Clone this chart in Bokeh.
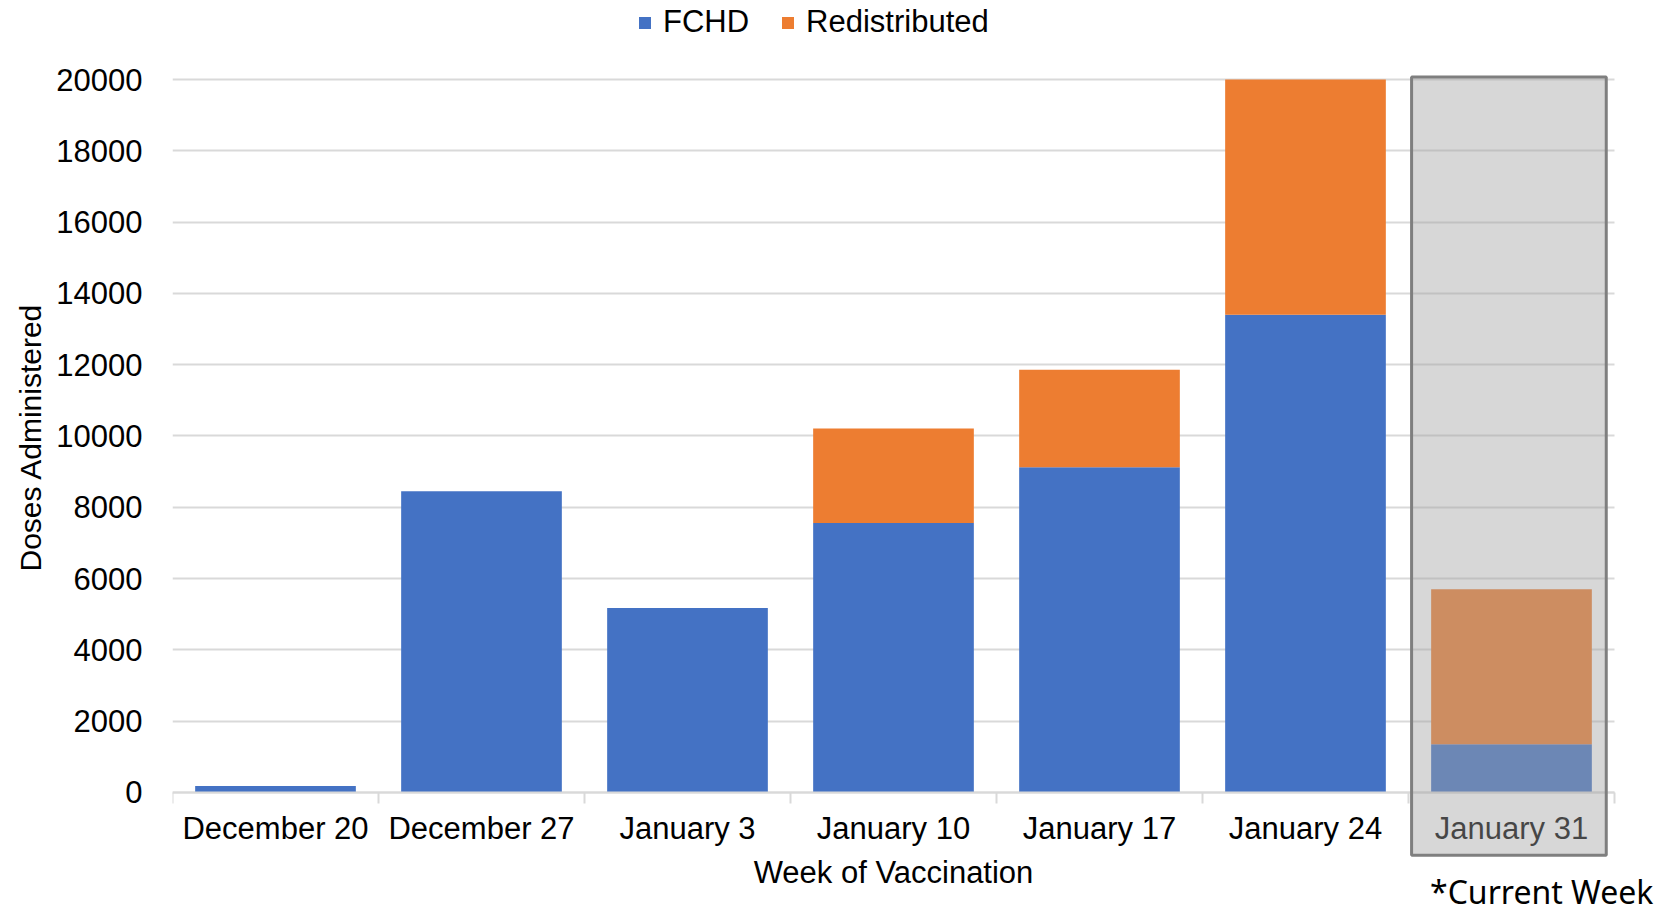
from bokeh.plotting import figure
from bokeh.models import (Range1d, FixedTicker, LinearAxis, Legend, LegendItem,
                          Label, ColumnDataSource, Grid, Title, BoxAnnotation)
from bokeh.embed import file_html
from bokeh.resources import INLINE

# ---- data ----
weeks = ["December 20", "December 27", "January 3", "January 10",
         "January 17", "January 24", "January 31"]
fchd = [180, 8450, 5170, 7560, 9120, 13400, 1350]
redistributed = [0, 0, 0, 2650, 2740, 6600, 4350]
y_ticks = [0, 2000, 4000, 6000, 8000, 10000, 12000, 14000, 16000, 18000, 20000]
current_week = "January 31"
current_week_note = "*Current Week"
series_names = ["FCHD", "Redistributed"]
series_colors = ["#4472C4", "#ED7D31"]

FONT = "Liberation Sans"
FS = "31px"

n = len(weeks)
xs = [i + 0.5 for i in range(n)]
src = ColumnDataSource(dict(x=xs, FCHD=fchd, Redistributed=redistributed))

W, H = 1665, 906
p = figure(width=W, height=H,
           x_range=Range1d(0, 7.2476), y_range=Range1d(-3202, 22219),
           output_backend="svg", toolbar_location=None,
           x_axis_location=None, y_axis_location=None,
           min_border_left=172, min_border_right=0,
           min_border_top=0, min_border_bottom=0)
p.outline_line_color = None
p.background_fill_color = "white"
p.center = [r for r in p.center if not isinstance(r, Grid)]

# y axis
yaxis = LinearAxis(ticker=FixedTicker(ticks=y_ticks))
yaxis.axis_line_color = None
yaxis.major_tick_line_color = None
yaxis.minor_tick_line_color = None
yaxis.major_tick_out = 0
yaxis.major_tick_in = 0
yaxis.major_label_standoff = 30
yaxis.major_label_text_font = FONT
yaxis.major_label_text_font_size = FS
yaxis.major_label_text_color = "#000000"
p.add_layout(yaxis, "left")

ytitle = Title(text="Doses Administered", align="left", offset=335,
               vertical_align="middle", standoff=12,
               text_font=FONT, text_font_size="30px", text_font_style="normal",
               text_color="#000000")
p.add_layout(ytitle, "left")

grid = Grid(dimension=1, ticker=yaxis.ticker)
grid.grid_line_color = "#D9D9D9"
grid.grid_line_width = 2
p.add_layout(grid)

# keep grid lines inside the category area
p.add_layout(BoxAnnotation(left=n, fill_color="white", fill_alpha=1.0,
                           line_color=None, level="underlay"))

# x axis (fixed at y=0)
xaxis = LinearAxis(ticker=FixedTicker(ticks=xs, minor_ticks=list(range(n + 1))),
                   fixed_location=0, bounds=(0, n))
xaxis.major_label_overrides = {x: w for x, w in zip(xs, weeks)}
xaxis.axis_line_color = "#D9D9D9"
xaxis.axis_line_width = 2
xaxis.major_tick_line_color = None
xaxis.major_tick_out = 0
xaxis.major_tick_in = 0
xaxis.minor_tick_line_color = "#D9D9D9"
xaxis.minor_tick_line_width = 2
xaxis.minor_tick_out = 11
xaxis.minor_tick_in = 0
xaxis.major_label_standoff = 8
xaxis.major_label_text_font = FONT
xaxis.major_label_text_font_size = FS
xaxis.major_label_text_color = "#000000"
xaxis.axis_label = "Week of Vaccination"
xaxis.axis_label_text_font = FONT
xaxis.axis_label_text_font_size = FS
xaxis.axis_label_text_font_style = "normal"
xaxis.axis_label_text_color = "#000000"
xaxis.axis_label_standoff = 5
p.add_layout(xaxis, "below")

# stacked bars
rs = p.vbar_stack(series_names, x="x", width=0.78, source=src,
                  color=series_colors, line_color=None)

# current-week highlight box (drawn over everything)
cw = weeks.index(current_week)
box_src = ColumnDataSource(dict(left=[cw + 0.015], right=[cw + 0.96],
                                bottom=[-1764], top=[20070]))
p.quad(left="left", right="right", bottom="bottom", top="top", source=box_src,
       fill_color="#A3A3A3", fill_alpha=0.43,
       line_color="#7F7F7F", line_width=3, level="overlay")

legend = Legend(items=[LegendItem(label=s, renderers=[r]) for s, r in zip(series_names, rs)],
                location=(465, H - 40), orientation="horizontal",
                padding=0, margin=0, spacing=31, label_standoff=11,
                glyph_width=15, glyph_height=15,
                background_fill_alpha=0, border_line_color=None,
                label_text_font=FONT, label_text_font_size=FS,
                label_text_color="#000000")
p.add_layout(legend, "center")

note = Label(x=n + 0.189, y=-2781, text=current_week_note,
             text_align="right", text_baseline="middle",
             text_font="Noto Sans", text_font_size="32px", text_color="#000000")
p.add_layout(note)

open("out.html", "w").write(file_html(p, INLINE))
